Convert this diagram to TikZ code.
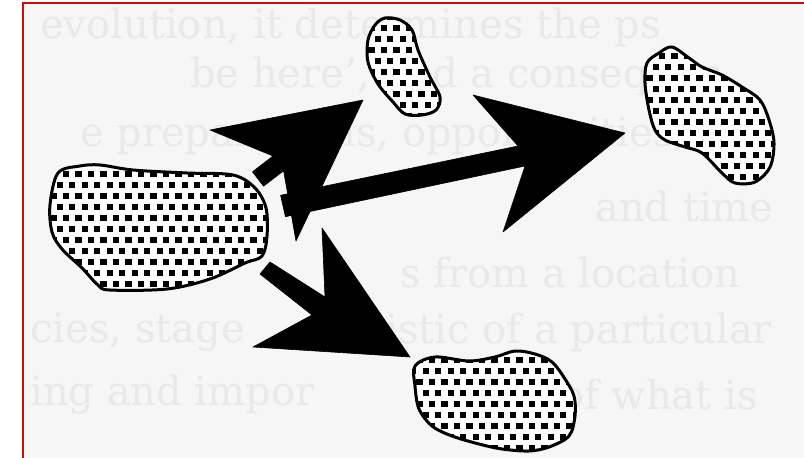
\documentclass[tikz,border=0pt]{standalone}
\usepackage{fontspec}
\setmainfont{DejaVu Serif}
\definecolor{framered}{RGB}{205,12,12}
\definecolor{paper}{RGB}{246,246,246}
\definecolor{ghost}{RGB}{232,233,235}
\tikzset{
  blobline/.style={draw=black, line width=3pt, line join=round},
  blobfill/.style={fill=white},
  bigarrow/.style={fill=black, draw=black, line width=0.6pt, line join=round},
  frameline/.style={draw=framered, line width=2.6pt},
  ghosttext/.style={anchor=west, inner sep=0pt, text=ghost, font=\fontsize{40}{42}\selectfont},
}
\newcommand\dotblob[5]{%
  \fill[blobfill] plot[smooth cycle, tension=0.55] coordinates {#1};
  \begin{scope}
    \clip plot[smooth cycle, tension=0.55] coordinates {#1};
    \foreach \r in {0,...,#4} {
      \foreach \c in {0,...,#5} {
        \fill[black] ({#2+mod(\r,2)*6.25+\c*12.5},{#3+\r*11}) rectangle ++(6.4,6.4);
      }
    }
  \end{scope}
  \draw[blobline] plot[smooth cycle, tension=0.55] coordinates {#1};
}
\begin{document}
\begin{tikzpicture}[x=1pt,y=-1pt]
\useasboundingbox (0,0) rectangle (804,458);
\fill[white] (0,0) rectangle (804,458);
\fill[paper] (23,3) rectangle (804,458);

% faint show-through text of the scanned page
\node[ghosttext] (g1) at (40,27) {evolution, it determines the ps};
\node[ghosttext] (g2) at (190,76) {be here', and a consequen};
\node[ghosttext] (g3) at (80,136) {e preparations, opportunities,};
\node[ghosttext] (g4) at (595,207) {and time};
\node[ghosttext] (g5) at (400,273) {s from a location};
\node[ghosttext] (g6a) at (30,332) {cies, stage};
\node[ghosttext] (g6b) at (385,332) {istic of a particular};
\node[ghosttext] (g7a) at (30,395) {ing and impor};
\node[ghosttext] (g7b) at (560,395) {of what is};

% blobs
\dotblob{(58,173) (80,166) (100,165) (133,170) (187,173) (233,175) (255,188) (266,208) (267,236) (262,256) (245,263) (210,279) (167,289) (110,290) (98,285) (82,268) (62,249) (52,232) (50,205)}{44}{160}{13}{19}
\dotblob{(385,18) (400,20) (412,30) (418,50) (430,77) (440,97) (436,110) (422,115) (405,114) (393,102) (378,84) (368,62) (368,40) (375,25)}{362}{14}{10}{7}
\dotblob{(672,47) (689,58) (702,67) (722,75) (742,87) (760,100) (769,120) (774,143) (770,167) (755,182) (735,183) (722,173) (702,153) (685,147) (665,140) (655,130) (649,110) (645,83) (647,63) (659,53)}{640}{42}{14}{12}
\dotblob{(415,366) (435,357) (469,361) (495,357) (515,351) (535,354) (552,362) (565,379) (574,396) (575,416) (569,436) (549,447) (529,451) (502,449) (479,444) (452,436) (432,426) (419,409) (415,386)}{410}{346}{11}{15}

% arrows
\path[bigarrow] (363,100) -- (210,130) -- (273,156) -- (252.5,171.8) -- (263.5,186.2) -- (283.6,170.8) -- (296,241) -- cycle;
\path[bigarrow] (625,133) -- (473,95) -- (518,146) -- (280.6,195.3) -- (285.4,216.7) -- (525,166) -- (503,232) -- cycle;
\path[bigarrow] (410,357) -- (322,228) -- (325,297) -- (270,262) -- (260,274) -- (312,315) -- (253,347) -- cycle;

% frame
\draw[frameline] (23,458) -- (23,3) -- (804,3);
\end{tikzpicture}
\end{document}
